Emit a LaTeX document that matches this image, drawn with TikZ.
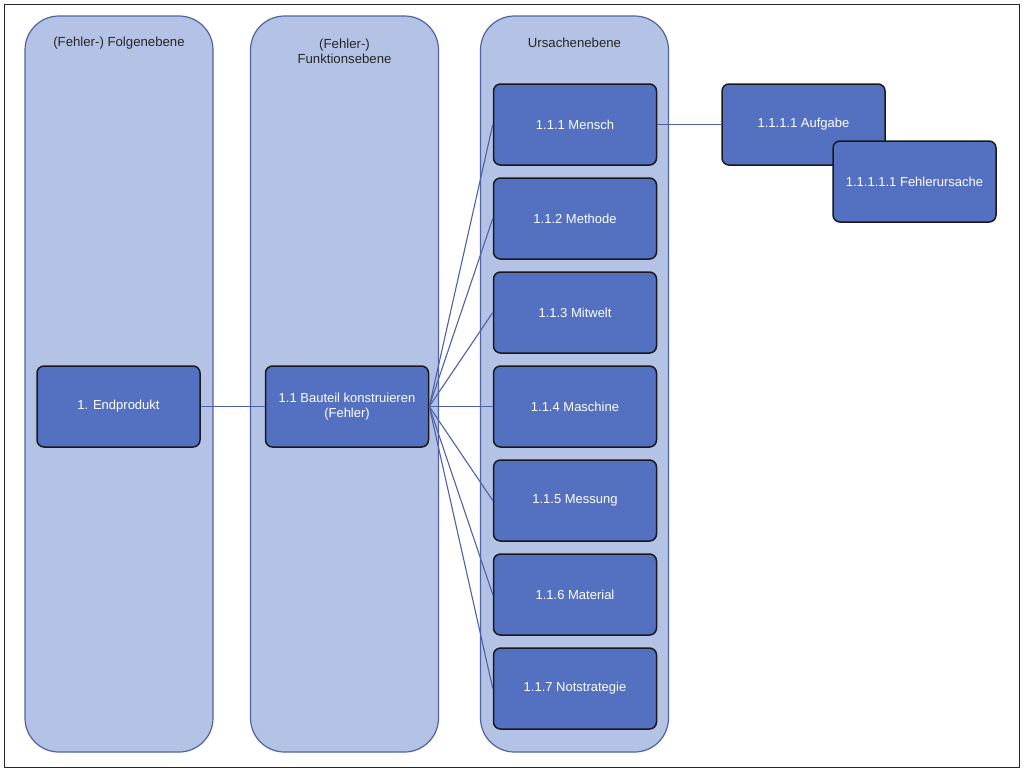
\documentclass[tikz,border=0pt]{standalone}
\usepackage{fontspec}
\setmainfont{Liberation Sans}
\definecolor{colfill}{HTML}{B4C3E5}
\definecolor{colline}{HTML}{4F63A3}
\definecolor{boxfill}{HTML}{5470C1}
\definecolor{linkc}{HTML}{4D62A6}
\tikzset{
  column/.style={draw=colline, fill=colfill, line width=1.2pt, rounded corners=34pt, minimum width=188pt, minimum height=736pt, inner sep=0pt},
  head/.style={text=black!85, font=\fontsize{13.2}{15.5}\selectfont, align=center},
  item/.style={draw=black!90, fill=boxfill, line width=1.5pt, rounded corners=7pt, minimum width=163pt, minimum height=81pt, inner sep=2pt, text=white, font=\fontsize{13}{15}\selectfont, align=center},
  link/.style={draw=linkc, line width=1.1pt}
}
\begin{document}
\begin{tikzpicture}[x=1pt,y=-1pt]
\useasboundingbox (0,0) rectangle (1024,772);
\draw[line width=1.5pt, black!85] (4.5,4.5) rectangle (1019.5,767.5);
% columns
\node[column] (c1) at (119,384) {};
\node[column] (c2) at (344.5,384) {};
\node[column] (c3) at (574.5,384) {};
\node[head] (h1) at (119,43) {(Fehler-) Folgenebene};
\node[head, anchor=north] (h2) at (344.5,35) {(Fehler-)\\Funktionsebene};
\node[head] (h3) at (574.5,43) {Ursachenebene};
% boxes
\node[item] (e) at (118.5,406.5) {1. Endprodukt};
\node[item] (b) at (347,406.5) {1.1 Bauteil konstruieren\\(Fehler)};
\node[item] (m1) at (575,124.5) {1.1.1 Mensch};
\node[item] (m2) at (575,218.5) {1.1.2 Methode};
\node[item] (m3) at (575,312.5) {1.1.3 Mitwelt};
\node[item] (m4) at (575,406.5) {1.1.4 Maschine};
\node[item] (m5) at (575,500.5) {1.1.5 Messung};
\node[item] (m6) at (575,594.5) {1.1.6 Material};
\node[item] (m7) at (575,688.5) {1.1.7 Notstrategie};
\node[item] (a) at (803.5,124.5) {1.1.1.1 Aufgabe};
\node[item] (f) at (914.5,181.5) {1.1.1.1.1 Fehlerursache};
% links
\draw[link] (e.east) -- (b.west);
\foreach \n in {m1,m2,m3,m4,m5,m6,m7}{\draw[link] (b.east) -- (\n.west);}
\draw[link] (m1.east) -- (a.west);
\end{tikzpicture}
\end{document}
